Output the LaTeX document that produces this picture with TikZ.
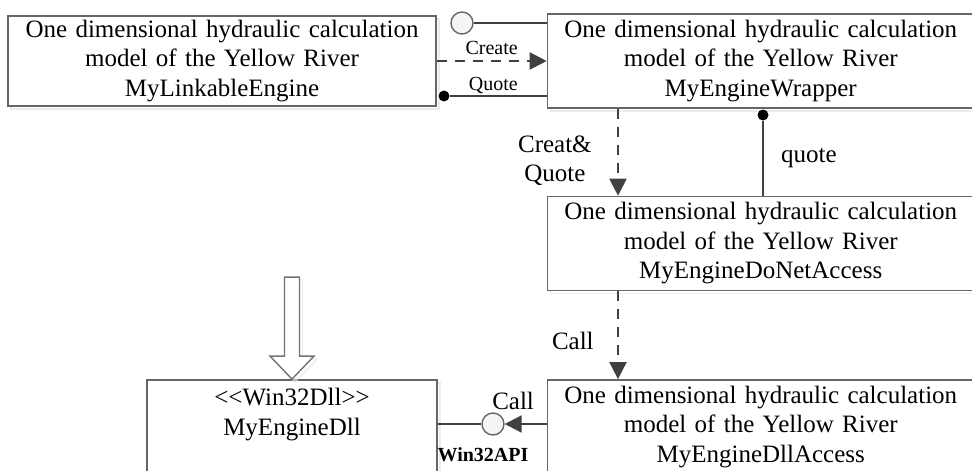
\documentclass[tikz,border=0pt]{standalone}
\usepackage{fontspec}
\setmainfont{Liberation Serif}
\usepackage{tikz}
\usetikzlibrary{arrows.meta, positioning, shadows, calc}
\tikzstyle{module}    = [rectangle, draw=black!60, fill=white, line width=1.4pt,
                          minimum width=424pt, minimum height=94pt, text width=420pt, align=center,
                          font=\fontsize{25}{29.5}\selectfont,
                          drop shadow={shadow xshift=3pt, shadow yshift=-3pt, fill=white, draw=black!15, line width=1.4pt}]
\tikzstyle{link}      = [draw=black!75, line width=1.6pt]
\tikzstyle{dasharrow} = [link, line width=2pt, dash pattern=on 10pt off 8pt, -{Triangle[length=17pt,width=17pt]}]
\tikzstyle{callarrow} = [link, line width=2pt, -{Triangle[length=17pt,width=17pt]}]
\tikzstyle{ball}      = [circle, fill=black, inner sep=0pt, minimum size=11pt]
\tikzstyle{socket}    = [circle, draw=black!60, fill=black!4, line width=1.4pt, inner sep=0pt, minimum size=22pt]
\tikzstyle{tag}       = [font=\fontsize{25}{29}\selectfont]
\tikzstyle{smalltag}  = [font=\fontsize{20}{22}\selectfont, inner sep=1pt]

\begin{document}
\begin{tikzpicture}[x=1pt, y=-1pt]
  \useasboundingbox (0,0) rectangle (972,471);

  \node (linkable)  [module, minimum width=428pt, minimum height=90pt] at (222,61)
        {One dimensional hydraulic calculation\\model of the Yellow River\\MyLinkableEngine};
  \node (wrapper)   [module, right=110pt of linkable]
        {One dimensional hydraulic calculation\\model of the Yellow River\\MyEngineWrapper};
  \node (donet)     [module, below=87pt of wrapper]
        {One dimensional hydraulic calculation\\model of the Yellow River\\MyEngineDoNetAccess};
  \node (dllaccess) [module, below=88pt of donet]
        {One dimensional hydraulic calculation\\model of the Yellow River\\MyEngineDllAccess};
  \node (enginedll) [module, minimum width=290pt, text width=280pt, left=109pt of dllaccess]
        {<\kern0pt<Win32Dll>\kern0pt>\\MyEngineDll\\\mbox{}};

  % interfaces between linkable engine and wrapper
  \node (topsocket) [socket] at (462,23) {};
  \draw[link] (topsocket) -- (topsocket -| wrapper.west);
  \draw[dasharrow] (linkable.east) -- (linkable.east -| wrapper.west)
        node[smalltag, midway, above=4pt]{Create};
  \node (quoteball) [ball] at (444,96) {};
  \draw[link] (quoteball) -- (quoteball -| wrapper.west)
        node[smalltag, pos=0.45, above]{Quote};

  % wrapper -> access layers
  \coordinate (cq) at (618,0);
  \draw[dasharrow] (cq |- wrapper.south) -- (cq |- donet.north)
        node[tag, midway, left=22pt, yshift=-9pt, align=center]{Creat\&\\Quote};
  \node (wrapball) [ball] at (763,115) {};
  \draw[link] (wrapball) -- (wrapball |- donet.north)
        node[tag, midway, right=14pt]{quote};
  \draw[dasharrow] (cq |- donet.south) -- (cq |- dllaccess.north)
        node[tag, midway, left=20pt, yshift=-6pt]{Call};

  % Win32 API
  \node (apisocket) [socket] at (493,424) {};
  \draw[link] (enginedll.east |- apisocket) -- (apisocket);
  \draw[callarrow] (dllaccess.west |- apisocket) -- (apisocket)
        node[tag, pos=0.8, above=10pt]{Call};
  \node (apitag) [font=\bfseries\fontsize{20}{22}\selectfont, below=8pt of apisocket, xshift=-10pt] {Win32API};

  % hollow arrow
  \draw[draw=black!55, fill=white, line width=1.4pt,
        drop shadow={shadow xshift=3pt, shadow yshift=-3pt, fill=white, draw=black!15, line width=1.4pt}]
    (enginedll.north) -- ++(-22,-23) -- ++(14.5,0) -- ++(0,-79) -- ++(15,0) -- ++(0,79) -- ++(14.5,0) -- cycle;
\end{tikzpicture}
\end{document}
